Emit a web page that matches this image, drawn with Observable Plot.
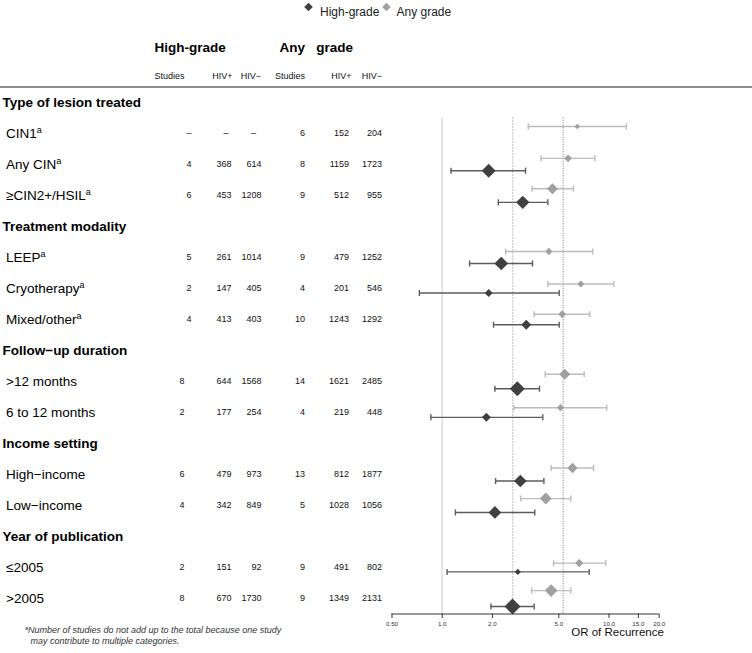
<!DOCTYPE html>
<html><head><meta charset="utf-8">
<script src="https://cdn.jsdelivr.net/npm/d3@7"></script>
<script src="https://cdn.jsdelivr.net/npm/@observablehq/plot@0.6"></script>
<style>
html,body{margin:0;padding:0;background:#fff;}
#chart{width:752px;height:653px;}
</style></head><body><div id="chart"></div>
<script>
// ---------------- DATA ----------------
const category = ["CIN1","Any CIN","≥CIN2+/HSIL","LEEP","Cryotherapy","Mixed/other",
  ">12 months","6 to 12 months","High−income","Low−income","≤2005",">2005"];
const categoryGroup = ["Type of lesion treated","Type of lesion treated","Type of lesion treated",
  "Treatment modality","Treatment modality","Treatment modality",
  "Follow−up duration","Follow−up duration","Income setting","Income setting",
  "Year of publication","Year of publication"];
const footnoted = [true,true,true,true,true,true,false,false,false,false,false,false];

const hgStudies = [null,4,6,5,2,4,8,2,6,4,2,8];
const hgHivPos  = [null,368,453,261,147,413,644,177,479,342,151,670];
const hgHivNeg  = [null,614,1208,1014,405,403,1568,254,973,849,92,1730];
const anyStudies = [6,8,9,9,4,10,14,4,13,5,9,9];
const anyHivPos  = [152,1159,512,479,201,1243,1621,219,812,1028,491,1349];
const anyHivNeg  = [204,1723,955,1252,546,1292,2485,448,1877,1056,802,2131];

const hgOR = [null,1.90,3.04,2.26,1.90,3.19,2.82,1.84,2.94,2.07,2.84,2.64];
const hgLo = [null,1.13,2.17,1.46,0.73,2.03,2.07,0.855,2.09,1.20,1.07,1.96];
const hgHi = [null,3.16,4.30,3.48,5.03,5.03,3.83,4.01,4.07,3.59,7.61,3.56];
const hgWeight = [null,14,13.3,13.7,8,10,15,9,12.7,12.7,6.3,16];

const anyOR = [6.45,5.69,4.58,4.36,6.78,5.24,5.43,5.12,6.04,4.18,6.63,4.50];
const anyLo = [3.28,3.92,3.46,2.40,4.30,3.56,4.15,2.69,4.50,2.96,4.65,3.44];
const anyHi = [12.7,8.22,6.12,8.0,10.7,7.67,7.10,9.70,8.08,5.90,9.57,5.90];
const anyWeight = [5.5,7.7,11,7.3,7,8,11,7.3,10.3,12,8.3,12.7];

const pooledHighGrade = 2.65;
const pooledAnyGrade = 5.31;

const tickValues = [0.5,1,2,5,10,15,20];
const tickLabels = ["0.50","1.0","2.0","5.0","10.0","15.0","20.0"];
const seriesNames = ["High-grade","Any grade"];
const footnoteLines = ["Number of studies do not add up to the total because one study",
  " may contribute to multiple categories."];

// ---------------- LAYOUT ----------------
const W = 752, H = 653;
const ML = 391.5, MR = W - 658.7, MT = 86.5, MB = H - 613.5;
const hgFill = "#404040", anyFill = "#a0a0a0";
const hgLine = "#5c5c5c", anyLine = "#bcbcbc";
const FONT = "'Liberation Sans', Arial, Helvetica, sans-serif";

// rows
const groups = [...new Set(categoryGroup)];
const rows = [];
let idx = 0;
groups.forEach(g => {
  rows.push({idx: idx++, label: g, header: true});
  category.forEach((c, k) => { if (categoryGroup[k] === g) rows.push({idx: idx++, label: c, header: false, k}); });
});
const nRows = rows.length;
const rowPx = (H - MB - MT) / nRows;
const headRows = rows.filter(r => r.header);
const subRows = rows.filter(r => !r.header);

// forest points
const anyPts = [], hgPts = [];
subRows.forEach(r => {
  const k = r.k;
  const gap = hgOR[k] == null ? 14 : (anyWeight[k] + hgWeight[k]) / 2 + 1.5;
  anyPts.push({y: r.idx - gap / 2 / rowPx, or: anyOR[k], lo: anyLo[k], hi: anyHi[k], w: anyWeight[k]});
  if (hgOR[k] != null) hgPts.push({y: r.idx + gap / 2 / rowPx, or: hgOR[k], lo: hgLo[k], hi: hgHi[k], w: hgWeight[k]});
});

const cap = {draw(ctx) { ctx.moveTo(0, -3); ctx.lineTo(0, 3); }};

// number columns: right edge for values (footnoted rows of first column sit a little further right),
// centre for the dash shown when a value is missing
const numCols = [
  {arr: hgStudies, x: 184, xFn: 191, dash: 188.5},
  {arr: hgHivPos, x: 231, xFn: 231, dash: 225.5},
  {arr: hgHivNeg, x: 261, xFn: 261, dash: 253},
  {arr: anyStudies, x: 304.5, xFn: 304.5, dash: 301},
  {arr: anyHivPos, x: 348.5, xFn: 348.5, dash: 341},
  {arr: anyHivNeg, x: 381.5, xFn: 381.5, dash: 371}
];
const colHeads = [
  {t: "Studies", x: 184}, {t: "HIV+", x: 232}, {t: "HIV−", x: 260.5},
  {t: "Studies", x: 304.5}, {t: "HIV+", x: 351}, {t: "HIV−", x: 381.5}
];

function series(pts, lineC, fillC) {
  return [
    Plot.ruleY(pts, {y: "y", x1: "lo", x2: "hi", stroke: lineC, strokeWidth: 1.4}),
    Plot.dot(pts, {x: "lo", y: "y", symbol: cap, r: 3, stroke: lineC, fill: "none", strokeWidth: 1.4}),
    Plot.dot(pts, {x: "hi", y: "y", symbol: cap, r: 3, stroke: lineC, fill: "none", strokeWidth: 1.4}),
    Plot.dot(pts, {x: "or", y: "y", r: "w", symbol: "diamond2", fill: fillC, stroke: "none"})
  ];
}

function numberMarks(c) {
  const base = {y: "idx", frameAnchor: "left", fontSize: 9, fill: "#111"};
  return [
    Plot.text(subRows.filter(r => c.arr[r.k] != null && footnoted[r.k]), {...base, text: r => String(c.arr[r.k]), dx: c.xFn - ML, textAnchor: "end"}),
    Plot.text(subRows.filter(r => c.arr[r.k] != null && !footnoted[r.k]), {...base, text: r => String(c.arr[r.k]), dx: c.x - ML, textAnchor: "end"}),
    Plot.text(subRows.filter(r => c.arr[r.k] == null), {...base, text: () => "–", dx: c.dash - ML, textAnchor: "middle"})
  ];
}

const marks = [
  // header rule
  Plot.ruleY([-0.5], {stroke: "#8c8c8c", strokeWidth: 2, insetLeft: -ML, insetRight: -MR}),
  // reference lines
  Plot.ruleX([1], {y1: 0.5, y2: nRows - 0.5, stroke: "#e4e4e4", strokeWidth: 2}),
  Plot.ruleX([pooledHighGrade], {y1: 0.5, y2: nRows - 0.5, stroke: "#777", strokeWidth: 1, strokeDasharray: "1,2"}),
  Plot.ruleX([pooledAnyGrade], {y1: 0.5, y2: nRows - 0.5, stroke: "#aaa", strokeWidth: 1.3, strokeDasharray: "1.2,1.2"}),
  ...series(anyPts, anyLine, anyFill),
  ...series(hgPts, hgLine, hgFill),
  // axis
  Plot.ruleY([nRows - 0.5], {stroke: "#333", strokeWidth: 1}),
  Plot.axisX({ticks: tickValues, tickFormat: d => tickLabels[tickValues.indexOf(d)], tickSize: 4.5, tickPadding: 3,
    fontSize: 6.2, color: "#333", label: null}),
  Plot.text(["OR of Recurrence"], {frameAnchor: "bottom-left", dx: 570.7 - ML, dy: 635.5 - (H - MB), fontSize: 11.5, fill: "#111"}),
  // row labels
  Plot.text(headRows, {y: "idx", text: "label", frameAnchor: "left", dx: 2 - ML, textAnchor: "start", fontWeight: "bold", fontSize: 13.5, fill: "#000"}),
  Plot.text(subRows, {y: "idx", text: "label", frameAnchor: "left", dx: 5.5 - ML, textAnchor: "start", fontSize: 13.5, fill: "#000"}),
  // number columns
  ...numCols.flatMap(numberMarks),
  // column headers
  Plot.text(["High-grade"], {frameAnchor: "top-left", dx: 154 - ML, dy: 42 - MT, textAnchor: "start", fontWeight: "bold", fontSize: 13.5, fill: "#000"}),
  Plot.text(["Any\u00a0\u00a0\u00a0grade"], {frameAnchor: "top-left", dx: 279 - ML, dy: 42 - MT, textAnchor: "start", fontWeight: "bold", fontSize: 13.5, fill: "#000"}),
  ...colHeads.map(c => Plot.text([c.t], {frameAnchor: "top-left", dx: c.x - ML, dy: 72 - MT, textAnchor: "end", fontSize: 9, fill: "#111"})),
  // legend
  Plot.dot([seriesNames[0]], {frameAnchor: "top-left", dx: 308 - ML, dy: 6.5 - MT, r: 3.9, symbol: "diamond2", fill: hgFill}),
  Plot.text([seriesNames[0]], {frameAnchor: "top-left", dx: 319.5 - ML, dy: 7 - MT, textAnchor: "start", fontSize: 12, fill: "#222"}),
  Plot.dot([seriesNames[1]], {frameAnchor: "top-left", dx: 386 - ML, dy: 6.5 - MT, r: 3.9, symbol: "diamond2", fill: anyFill}),
  Plot.text([seriesNames[1]], {frameAnchor: "top-left", dx: 396 - ML, dy: 7 - MT, textAnchor: "start", fontSize: 12, fill: "#222"}),
  // footnote
  Plot.text(["a"], {frameAnchor: "bottom-left", dx: 24.5 - ML, dy: 629.5 - (H - MB), textAnchor: "start", fontSize: 6, fill: "#333"}),
  Plot.text([footnoteLines[0]], {frameAnchor: "bottom-left", dx: 27.5 - ML, dy: 632 - (H - MB), textAnchor: "start", fontSize: 9, fontStyle: "italic", fill: "#333"}),
  Plot.text([footnoteLines[1]], {frameAnchor: "bottom-left", dx: 27.5 - ML, dy: 643.5 - (H - MB), textAnchor: "start", fontSize: 9, fontStyle: "italic", fill: "#333"})
];

const chart = Plot.plot({
  width: W, height: H,
  marginLeft: ML, marginRight: MR, marginTop: MT, marginBottom: MB,
  style: {fontFamily: FONT, background: "#fff", overflow: "visible", whiteSpace: "pre"},
  x: {type: "log", domain: [0.5, 20]},
  y: {domain: [-0.5, nRows - 0.5], reverse: true, axis: null},
  r: {type: "linear", domain: [0, 16], range: [0, 16 / 2.22]},
  marks
});
document.getElementById("chart").appendChild(chart);

// superscript footnote marks on row labels that carry one
const fnLabels = new Set(category.filter((c, k) => footnoted[k]));
chart.querySelectorAll("text").forEach(t => {
  if (t.childElementCount === 0 && fnLabels.has(t.textContent)) {
    const s = document.createElementNS("http://www.w3.org/2000/svg", "tspan");
    s.setAttribute("dy", "-5");
    s.setAttribute("font-size", "9");
    s.textContent = "a";
    t.appendChild(s);
  }
});
</script></body></html>
